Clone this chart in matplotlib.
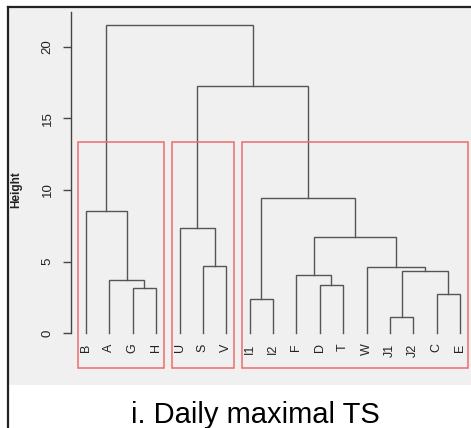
import matplotlib
matplotlib.use("Agg")
import matplotlib.pyplot as plt
from matplotlib.patches import Rectangle
from matplotlib.lines import Line2D
from matplotlib.transforms import offset_copy

# ---- data ----
labels = ['B', 'A', 'G', 'H', 'U', 'S', 'V', 'I1', 'I2', 'F', 'D', 'T',
          'W', 'J1', 'J2', 'C', 'E']
# merges: negative = leaf index (1-based, -k), positive = earlier merge (1-based)
merge_left = [-3, -2, -1, -6, -5, -8, -11, -10, -14, -16, 9, -13, 8, 6, 5, 3]
merge_right = [-4, 1, 2, -7, 4, -9, -12, 7, -15, -17, 10, 11, 12, 13, 14, 15]
merge_height = [3.17, 3.72, 8.53, 4.67, 7.37, 2.39, 3.35, 4.09, 1.12, 2.74,
                4.33, 4.63, 6.70, 9.42, 17.26, 21.51]
cluster_first = [1, 5, 8]
cluster_last = [4, 7, 17]
yticks = [0, 5, 10, 15, 20]
caption = "i. Daily maximal TS"

W, H = 471, 428
fig = plt.figure(figsize=(W / 100, H / 100), dpi=100, facecolor='white')

# gray panel and frame lines
fig.patches.append(Rectangle((8 / W, 1 - 385 / H), (W - 8) / W, 378 / H,
                             transform=fig.transFigure, facecolor='#f0f0f0',
                             edgecolor='none', zorder=-5))
fig.lines.append(Line2D([7.5 / W, 7.5 / W], [0, 1 - 6.5 / H], transform=fig.transFigure,
                        color='#222222', lw=1.6, zorder=-4))
fig.lines.append(Line2D([7.5 / W, 1], [1 - 6.5 / H, 1 - 6.5 / H], transform=fig.transFigure,
                        color='#222222', lw=1.6, zorder=-4))

ax = fig.add_axes([71 / W, 1 - 368.3 / H, (W - 71) / W, (368.3 - 7) / H])
ax.set_zorder(2)
ax.set_facecolor('none')
ax.set_xlim(0.358, 17.47)
ax.set_ylim(-2.44, 22.77)

line_col = '#555555'
pos = {}
for i in range(len(labels)):
    pos[-(i + 1)] = (i + 1, 0.0)

for k, (l, r, h) in enumerate(zip(merge_left, merge_right, merge_height), start=1):
    xl, yl = pos[l]
    xr, yr = pos[r]
    ax.plot([xl, xl, xr, xr], [yl, h, h, yr], color=line_col, lw=1.0,
            solid_joinstyle='miter', zorder=3)
    pos[k] = ((xl + xr) / 2, h)

# leaf labels
lab_tr = offset_copy(ax.transData, fig=fig, x=0, y=-10, units='dots')
for i, lab in enumerate(labels):
    ax.text(i + 1, 0, lab, rotation=90, ha='center', va='top', fontsize=9,
            family='Liberation Sans', color='#222222', transform=lab_tr)

# cluster rectangles (k = 3)
sorted_h = sorted(merge_height)
rect_top = (sorted_h[-2] + sorted_h[-3]) / 2
ybot = ax.get_ylim()[0]
for a, b in zip(cluster_first, cluster_last):
    ax.add_patch(Rectangle((a - 0.34, ybot), (b + 0.33) - (a - 0.34), rect_top - ybot,
                           fill=False, edgecolor='#ee6b6b', lw=1.1, zorder=4,
                           clip_on=False))

# axes styling
for s in ['top', 'right', 'bottom']:
    ax.spines[s].set_visible(False)
ax.spines['left'].set_bounds(0, 22.4)
ax.spines['left'].set_color('#444444')
ax.spines['left'].set_linewidth(1.0)
ax.set_xticks([])
ax.set_yticks(yticks)
ax.set_yticklabels([str(t) for t in yticks], rotation=90, va='center',
                   family='Liberation Sans', fontsize=9.5, color='#222222')
ax.tick_params(axis='y', direction='out', length=6, width=1.0, color='#444444', pad=6.5)

fig.text(16.5 / W, 1 - 190 / H, 'Height', rotation=90, ha='center', va='center',
         fontsize=8.5, fontweight='bold', family='Liberation Sans', color='#222222')

fig.text(255 / W, 5.3 / H, caption, ha='center', va='baseline', fontsize=21,
         family='Liberation Sans', color='black')

fig.savefig('out.png', dpi=100, facecolor='white')
